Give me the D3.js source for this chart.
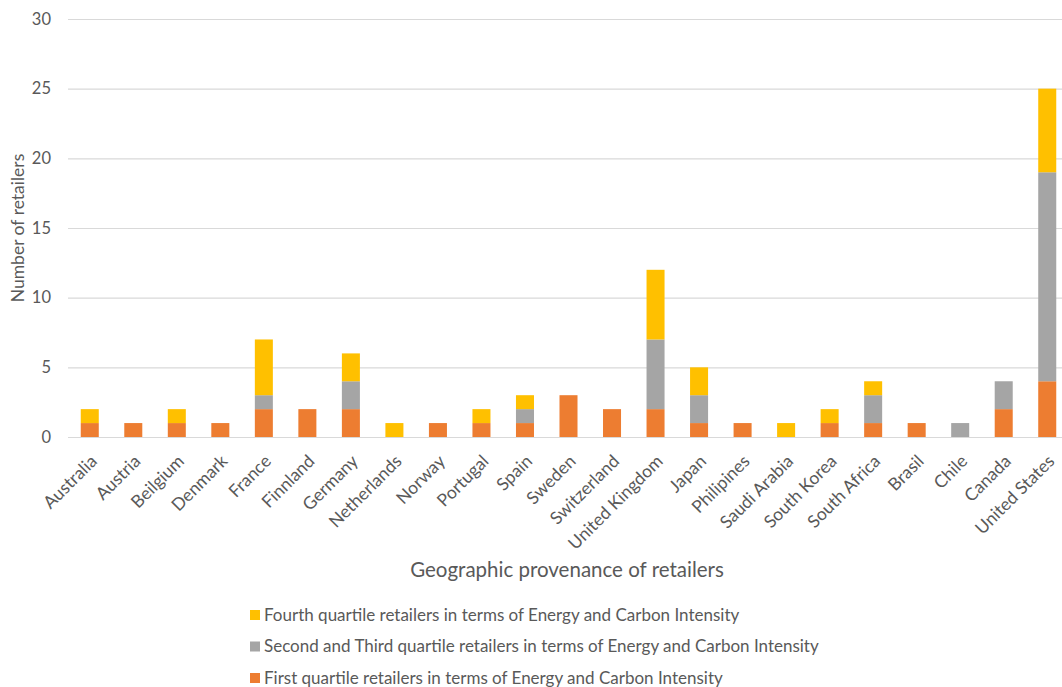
<!DOCTYPE html>
<html>
<head>
<meta charset="utf-8">
<script src="https://cdn.jsdelivr.net/npm/d3@7/dist/d3.min.js"></script>
<style>
  html, body { margin: 0; padding: 0; background: #fff; }
  svg { display: block; font-family: Lato, "Open Sans", sans-serif; }
</style>
</head>
<body>
<svg id="chart" width="1062" height="687"></svg>
<script>
// Countries of origin of the retailers
const countries = ["Australia", "Austria", "Beilgium", "Denmark", "France", "Finnland", "Germany",
  "Netherlands", "Norway", "Portugal", "Spain", "Sweden", "Switzerland", "United Kingdom", "Japan",
  "Philipines", "Saudi Arabia", "South Korea", "South Africa", "Brasil", "Chile", "Canada", "United States"];

// Retailer counts per quartile group
const firstQuartile  = [1, 1, 1, 1, 2, 2, 2, 0, 1, 1, 1, 3, 2, 2, 1, 1, 0, 1, 1, 1, 0, 2, 4];
const middleQuartile = [0, 0, 0, 0, 1, 0, 2, 0, 0, 0, 1, 0, 0, 5, 2, 0, 0, 0, 2, 0, 1, 2, 15];
const fourthQuartile = [1, 0, 1, 0, 4, 0, 2, 1, 0, 1, 1, 0, 0, 5, 2, 0, 1, 1, 1, 0, 0, 0, 6];

const yTicks = [0, 5, 10, 15, 20, 25, 30];

const seriesKeys = ["first", "middle", "fourth"];
const seriesColors = { first: "#ED7D31", middle: "#A5A5A5", fourth: "#FFC000" };
const legendItems = [
  { key: "fourth", label: "Fourth quartile retailers in terms of Energy and Carbon Intensity" },
  { key: "middle", label: "Second and Third quartile retailers in terms of Energy and Carbon Intensity" },
  { key: "first",  label: "First quartile retailers in terms of Energy and Carbon Intensity" }
];

const rows = countries.map((c, i) => ({
  country: c, first: firstQuartile[i], middle: middleQuartile[i], fourth: fourthQuartile[i]
}));

const svg = d3.select("#chart");
const plot = { left: 68, right: 1069, top: 19, bottom: 437 };
const textColor = "#595959";

const x = d3.scaleBand().domain(countries).range([plot.left, plot.right]).paddingInner(0.586).paddingOuter(0.293);
const y = d3.scaleLinear().domain([0, 30]).range([plot.bottom, plot.top]);

// Horizontal gridlines with tick labels
const yAxis = d3.axisLeft(y).tickValues(yTicks).tickSize(-(plot.right - plot.left)).tickPadding(17);
const gy = svg.append("g").attr("transform", `translate(${plot.left},0)`).call(yAxis);
gy.select(".domain").remove();
gy.selectAll(".tick line").attr("stroke", "#D9D9D9").attr("stroke-width", 1.2);
gy.selectAll(".tick text").attr("fill", textColor).attr("font-size", 16.5).attr("font-family", "Lato, sans-serif");

// Stacked bars
const stack = d3.stack().keys(seriesKeys)(rows);
svg.append("g").selectAll("g").data(stack).join("g")
  .attr("fill", d => seriesColors[d.key])
  .selectAll("rect").data(d => d).join("rect")
  .attr("x", d => x(d.data.country))
  .attr("width", x.bandwidth())
  .attr("y", d => y(d[1]))
  .attr("height", d => y(d[0]) - y(d[1]));

// Rotated category labels
const xAxis = d3.axisBottom(x).tickSize(0).tickPadding(0);
const gx = svg.append("g").attr("transform", `translate(0,${plot.bottom})`).call(xAxis);
gx.select(".domain").remove();
gx.selectAll(".tick text")
  .attr("fill", textColor).attr("font-size", 17.5).attr("font-family", "Lato, sans-serif")
  .attr("text-anchor", "end")
  .attr("transform", "translate(4,21) rotate(-45)")
  .attr("dy", "0.35em");

// Axis titles
svg.append("text")
  .attr("transform", `translate(24,228) rotate(-90)`)
  .attr("text-anchor", "middle").attr("fill", textColor).attr("font-size", 17.5)
  .text("Number of retailers");

svg.append("text")
  .attr("x", 567).attr("y", 577)
  .attr("text-anchor", "middle").attr("fill", textColor).attr("font-size", 20.5)
  .text("Geographic provenance of retailers");

// Legend
const legend = svg.append("g").attr("transform", "translate(250,0)");
legendItems.forEach((item, i) => {
  const cy = 615 + i * 31.5;
  legend.append("rect").attr("x", 0).attr("y", cy - 5).attr("width", 10).attr("height", 10)
    .attr("fill", seriesColors[item.key]);
  legend.append("text").attr("x", 14).attr("y", cy).attr("dy", "0.35em")
    .attr("fill", textColor).attr("font-size", 17).text(item.label);
});
</script>
</body>
</html>
